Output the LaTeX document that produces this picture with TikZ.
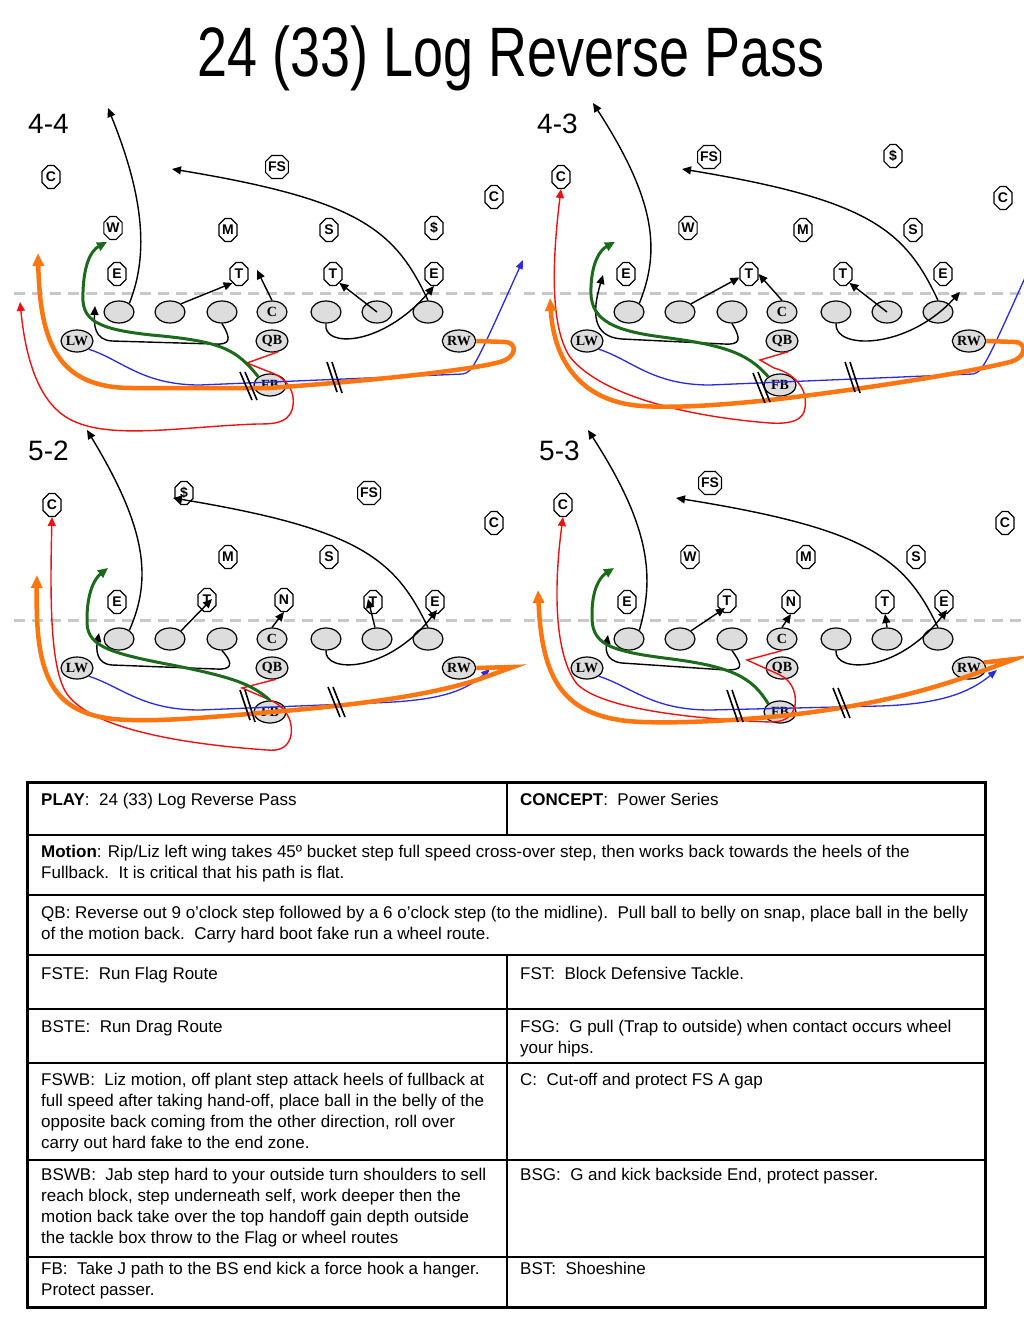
\documentclass[tikz,border=0pt]{standalone}
\usepackage{fontspec}
\setmainfont{Liberation Sans}
\newfontfamily\serifbf{Liberation Serif}
\usepackage{graphicx}
\usetikzlibrary{shapes.geometric, shapes.misc, arrows.meta, positioning}
\definecolor{ovalgray}{HTML}{DDDDDD}
\definecolor{losgray}{HTML}{C8C8C8}
\definecolor{runblue}{HTML}{2A2AE0}
\definecolor{runred}{HTML}{EE1111}
\definecolor{rungreen}{HTML}{1C6B1C}
\definecolor{runorange}{HTML}{FF7510}

% offensive set: line, backs and wings, names get a prefix
\newcommand{\offense}[1]{%
    \draw[los] (-258,-19) -- (246,-19);
    \node[ol] (#1-o1) at (-153,0) {};
    \node[ol] (#1-o2) at (-102,0) {};
    \node[ol] (#1-o3) at (-50,0) {};
    \node[ol] (#1-c) at (0,0) {C};
    \node[ol] (#1-o5) at (54,0) {};
    \node[ol] (#1-o6) at (105,0) {};
    \node[ol] (#1-o7) at (156,0) {};
    \node[back] (#1-qb) at (0,29) {QB};
    \node[back] (#1-fb) at (-2,73) {FB};
    \node[back] (#1-lw) at (-195,29) {LW};
    \node[back] (#1-rw) at (187,29) {RW};
}

\begin{document}
\begin{tikzpicture}[
    x=1pt, y=-1pt,
    ol/.style={ellipse, draw, line width=1.2pt, fill=ovalgray, minimum width=30pt, minimum height=22pt, inner sep=0pt, font=\serifbf\bfseries\fontsize{14}{14}\selectfont},
    back/.style={ol, minimum width=32pt},
    dfn/.style={chamfered rectangle, chamfered rectangle xsep=2.5pt, draw, line width=1.1pt, fill=white, minimum width=18pt, minimum height=23pt, inner sep=0pt, font=\bfseries\fontsize{14}{14}\selectfont},
    los/.style={losgray, line width=3pt, dash pattern=on 11pt off 7pt},
    arr/.style={-{Triangle[length=9pt, width=8pt]}, line width=1.4pt},
    grnarr/.style={-{Triangle[length=10pt, width=9pt]}, line width=3pt, rungreen},
    bluarr/.style={-{Triangle[length=9pt, width=7pt]}, line width=1.3pt, runblue},
    redarr/.style={-{Triangle[length=9pt, width=8pt]}, line width=1.4pt, runred},
    orgarr/.style={-{Triangle[length=13pt, width=11pt]}, line width=4.5pt, runorange},
    slash/.style={line width=1.6pt},
    lbl/.style={anchor=base west, inner sep=0pt, font=\fontsize{28}{28}\selectfont},
    cell/.style={anchor=north west, inner sep=0pt, align=left, font=\fontsize{17}{21}\selectfont},
    grid/.style={line width=1.5pt},
]
    \path[fill=white, use as bounding box] (0,0) rectangle (1023,1319);

    \node[anchor=base, inner sep=0pt, font=\fontsize{70}{70}\selectfont] (title) at (511,77) {\scalebox{0.77}[1]{24 (33) Log Reverse Pass}};

    \node[lbl] (lbl44) at (28,133) {4-4};
    \node[lbl] (lbl43) at (537,133) {4-3};
    \node[lbl] (lbl52) at (28,460) {5-2};
    \node[lbl] (lbl53) at (539,460) {5-3};

    % 4-4
    \begin{scope}[shift={(272,312)}]
        \offense{a}
        \node[dfn] (a-cl) at (-221,-135) {C};
        \node[dfn] (a-w) at (-159,-84) {W};
        \node[dfn] (a-m) at (-44,-82) {M};
        \node[dfn] (a-fs) at (5,-145) {FS};
        \node[dfn] (a-s) at (57,-82) {S};
        \node[dfn] (a-ss) at (162,-84) {\$};
        \node[dfn] (a-cr) at (222,-115) {C};
        \node[dfn] (a-el) at (-155,-38) {E};
        \node[dfn] (a-tl) at (-33,-38) {T};
        \node[dfn] (a-tr) at (61,-38) {T};
        \node[dfn] (a-er) at (162,-38) {E};

        \draw[arr] (a-o1.40) .. controls (-122,-60) and (-130,-120) .. (-164,-204);
        \draw[arr] (a-o7.north) .. controls (123,-82) and (88,-112) .. (-100,-143);
        \draw[arr] (a-o2.north east) -- (a-tl.south west);
        \draw[arr] (a-c.north) -- (-15,-42);
        \draw[arr] (a-o6.center) -- (a-tr.south east);
        \draw[arr] (a-o5.south) .. controls (50,36) and (110,35) .. (a-er.south);
        \draw[arr] (a-o3.south) .. controls (-40,28) and (-42,33) .. (-58,32) -- (-160,29) .. controls (-178,28) and (-178,12) .. (-177,-6);
        \draw[bluarr] (a-lw.south east) .. controls (-150,48) and (-130,73) .. (-72,73) -- (191,62) .. controls (201,60) and (205,50) .. (251,-52);
        \draw[redarr] (a-qb.-60) -- (-25,51) -- (-5,59) .. controls (15,65) and (25,80) .. (20,98) .. controls (15,112) and (0,112) .. (-15,112) .. controls (-100,115) and (-180,132) .. (-215,98) .. controls (-240,75) and (-248,30) .. (-252,-10);
        \draw[grnarr] (a-fb.north west) .. controls (-35,38) and (-50,30) .. (-110,24) .. controls (-178,18) and (-191,8) .. (-189,-20) .. controls (-188,-50) and (-180,-62) .. (-165,-70);
        \draw[orgarr] (a-rw.east) -- (233,30) .. controls (245,30) and (246,45) .. (228,50) .. controls (190,60) and (80,70) .. (-2,76) -- (-140,76) .. controls (-215,76) and (-232,30) .. (-234,-59);
        \draw[slash] (-32,60) -- (-20,88) (-27,60) -- (-15,88);
        \draw[slash] (55,50) -- (65,80) (60,50) -- (70,81);
    \end{scope}

    % 4-3
    \begin{scope}[shift={(782,312)}]
        \offense{b}
        \node[dfn] (b-cl) at (-221,-135) {C};
        \node[dfn] (b-fs) at (-73,-155) {FS};
        \node[dfn] (b-ss) at (111,-156) {\$};
        \node[dfn] (b-cr) at (221,-114) {C};
        \node[dfn] (b-w) at (-94,-84) {W};
        \node[dfn] (b-m) at (21,-82) {M};
        \node[dfn] (b-s) at (131,-82) {S};
        \node[dfn] (b-el) at (-156,-38) {E};
        \node[dfn] (b-tl) at (-33,-38) {T};
        \node[dfn] (b-tr) at (61,-38) {T};
        \node[dfn] (b-er) at (161,-38) {E};

        \draw[arr] (b-o1.40) .. controls (-122,-60) and (-125,-110) .. (-189,-209);
        \draw[arr] (b-o7.north) .. controls (123,-82) and (88,-112) .. (-100,-143);
        \draw[arr] (b-o2.north east) -- (b-tl.200);
        \draw[arr] (b-c.north) -- (b-tl.east);
        \draw[arr] (b-o6.center) -- (b-tr.south east);
        \draw[arr] (b-o5.south) .. controls (52,38) and (125,38) .. (178,-20);
        \draw[arr] (b-o3.south) .. controls (-40,28) and (-42,33) .. (-58,32) -- (-160,27) .. controls (-190,25) and (-190,0) .. (-179,-37);
        \draw[bluarr] (b-lw.south east) .. controls (-150,48) and (-130,73) .. (-72,73) -- (191,62) .. controls (201,60) and (205,50) .. (251,-52);
        \draw[redarr] (b-qb.-60) -- (-22,48) -- (-8,56) .. controls (15,62) and (28,80) .. (22,100) .. controls (18,110) and (5,112) .. (-12,111) .. controls (-90,105) and (-180,85) .. (-212,45) .. controls (-232,15) and (-230,-50) .. (b-cl.south);
        \draw[grnarr] (b-fb.north west) .. controls (-35,40) and (-60,33) .. (-120,25) .. controls (-175,18) and (-193,5) .. (-191,-25) .. controls (-190,-50) and (-182,-62) .. (-167,-70);
        \draw[orgarr] (b-rw.east) -- (233,30) .. controls (244,30) and (246,45) .. (228,50) .. controls (180,62) and (60,80) .. (-12,88) .. controls (-70,94) and (-110,96) .. (-140,94) .. controls (-200,90) and (-228,50) .. (-232,-14);
        \draw[slash] (-29,61) -- (-17,91) (-24,60) -- (-12,90);
        \draw[slash] (63,50) -- (73,80) (68,50) -- (78,81);
    \end{scope}

    % 5-2
    \begin{scope}[shift={(272,639)}]
        \offense{c}
        \node[dfn] (c-cl) at (-220,-134) {C};
        \node[dfn] (c-ss) at (-88,-146) {\$};
        \node[dfn] (c-fs) at (97,-146) {FS};
        \node[dfn] (c-cr) at (222,-116) {C};
        \node[dfn] (c-m) at (-44,-82) {M};
        \node[dfn] (c-s) at (57,-82) {S};
        \node[dfn] (c-el) at (-155,-37) {E};
        \node[dfn] (c-tl) at (-65,-39) {T};
        \node[dfn] (c-n) at (12,-39) {N};
        \node[dfn] (c-tr) at (101,-37) {T};
        \node[dfn] (c-er) at (163,-37) {E};

        \draw[arr] (c-o1.40) .. controls (-120,-60) and (-125,-110) .. (-185,-209);
        \draw[arr] (c-o7.north) .. controls (123,-80) and (88,-110) .. (-99,-141);
        \draw[arr] (c-o2.north east) -- (-60,-40);
        \draw[arr] (c-c.north) -- (c-n.south);
        \draw[arr] (c-o6.100) -- (96,-40);
        \draw[arr] (c-o5.south) .. controls (52,34) and (115,35) .. (165,-29);
        \draw[arr] (c-o3.south) .. controls (-38,25) and (-40,31) .. (-56,30) -- (-160,26) .. controls (-176,25) and (-176,10) .. (-173,-6);
        \draw[bluarr] (c-lw.south east) .. controls (-150,48) and (-130,71) .. (-72,71) -- (100,64) .. controls (160,62) and (190,55) .. (218,30);
        \draw[redarr] (c-qb.-70) -- (-30,49) -- (-2,61) .. controls (15,68) and (23,85) .. (18,100) .. controls (14,110) and (5,112) .. (-5,111) .. controls (-90,105) and (-180,90) .. (-205,55) .. controls (-222,30) and (-222,-40) .. (c-cl.south);
        \draw[grnarr] (c-fb.north) .. controls (-20,45) and (-40,38) .. (-100,26) .. controls (-170,13) and (-186,5) .. (-185,-20) .. controls (-185,-45) and (-178,-60) .. (-164,-71);
        \draw[orgarr] (c-rw.east) -- (241,28) -- (205,41) .. controls (160,55) and (100,65) .. (-12,74) .. controls (-70,79) and (-110,82) .. (-140,81) .. controls (-220,80) and (-237,40) .. (-235,-64);
        \draw[slash] (-32,51) -- (-22,81) (-27,51) -- (-17,83);
        \draw[slash] (56,48) -- (68,78) (61,48) -- (73,78);
    \end{scope}

    % 5-3
    \begin{scope}[shift={(782,639)}]
        \offense{d}
        \node[dfn] (d-cl) at (-219,-134) {C};
        \node[dfn] (d-fs) at (-72,-156) {FS};
        \node[dfn] (d-cr) at (223,-116) {C};
        \node[dfn] (d-w) at (-92,-82) {W};
        \node[dfn] (d-m) at (24,-82) {M};
        \node[dfn] (d-s) at (134,-82) {S};
        \node[dfn] (d-el) at (-155,-37) {E};
        \node[dfn] (d-tl) at (-55,-38) {T};
        \node[dfn] (d-n) at (9,-37) {N};
        \node[dfn] (d-tr) at (103,-37) {T};
        \node[dfn] (d-er) at (162,-37) {E};

        \draw[arr] (d-o1.40) .. controls (-128,-60) and (-130,-110) .. (-194,-209);
        \draw[arr] (d-o7.north) .. controls (123,-80) and (88,-110) .. (-106,-141);
        \draw[arr] (d-o2.north east) -- (-57,-31);
        \draw[arr] (d-c.north) -- (d-n.south);
        \draw[arr] (d-o6.north) -- (d-tr.south);
        \draw[arr] (d-o5.south) .. controls (52,34) and (115,35) .. (165,-29);
        \draw[arr] (d-o3.south) .. controls (-38,28) and (-40,31) .. (-56,31) -- (-160,24) .. controls (-178,22) and (-176,8) .. (-174,-4);
        \draw[bluarr] (d-lw.south east) .. controls (-150,48) and (-130,71) .. (-72,71) -- (98,67) .. controls (160,65) and (188,53) .. (215,31);
        \draw[redarr] (d-c.south) -- (-35,21) -- (-2,36) .. controls (12,42) and (16,60) .. (12,70) .. controls (8,80) and (0,83) .. (-12,83) .. controls (-90,80) and (-180,70) .. (-205,45) .. controls (-225,20) and (-230,-40) .. (d-cl.south);
        \draw[grnarr] (d-fb.north west) .. controls (-30,38) and (-50,28) .. (-110,20) .. controls (-175,12) and (-191,5) .. (-190,-25) .. controls (-190,-50) and (-182,-62) .. (-168,-71);
        \draw[orgarr] (d-rw.20) -- (233,20) -- (195,34) .. controls (150,50) and (90,68) .. (-12,78) .. controls (-70,83) and (-110,84) .. (-140,83) .. controls (-220,80) and (-240,40) .. (-244,-49);
        \draw[slash] (-55,51) -- (-44,83) (-50,51) -- (-39,83);
        \draw[slash] (51,49) -- (63,79) (56,49) -- (68,79);
    \end{scope}

    % Play card
    \draw[line width=3pt] (27,782) rectangle (985,1307);
    \draw[grid] (27,835) -- (985,835) (27,895) -- (985,895) (27,955) -- (985,955) (27,1009) -- (985,1009)
        (27,1063) -- (985,1063) (27,1160) -- (985,1160) (27,1257) -- (985,1257);
    \draw[grid] (507,782) -- (507,835) (507,955) -- (507,1307);

    \node[cell] (play) at (41,793) {\textbf{PLAY}:\ \ 24 (33) Log Reverse Pass};
    \node[cell] (concept) at (520,793) {\textbf{CONCEPT}:\ \ Power Series};
    \node[cell] (motion) at (41,845) {\textbf{Motion}: Rip/Liz left wing takes 45º bucket step full speed cross-over step, then works back towards the heels of the\\Fullback.\ \ It is critical that his path is flat.};
    \node[cell] (qbnote) at (41,906) {QB: Reverse out 9 o’clock step followed by a 6 o’clock step (to the midline).\ \ Pull ball to belly on snap, place ball in the belly\\of the motion back.\ \ Carry hard boot fake run a wheel route.};
    \node[cell] (fste) at (41,967) {FSTE:\ \ Run Flag Route};
    \node[cell] (fst) at (520,967) {FST:\ \ Block Defensive Tackle.};
    \node[cell] (bste) at (41,1020) {BSTE:\ \ Run Drag Route};
    \node[cell] (fsg) at (520,1020) {FSG:\ \ G pull (Trap to outside) when contact occurs wheel\\your hips.};
    \node[cell] (fswb) at (41,1073) {FSWB:\ \ Liz motion, off plant step attack heels of fullback at\\full speed after taking hand-off, place ball in the belly of the\\opposite back coming from the other direction, roll over\\carry out hard fake to the end zone.};
    \node[cell] (ccut) at (520,1073) {C:\ \ Cut-off and protect FS A gap};
    \node[cell] (bswb) at (41,1168) {BSWB:\ \ Jab step hard to your outside turn shoulders to sell\\reach block, step underneath self, work deeper then the\\motion back take over the top handoff gain depth outside\\the tackle box throw to the Flag or wheel routes};
    \node[cell] (bsg) at (520,1168) {BSG:\ \ G and kick backside End, protect passer.};
    \node[cell] (fbnote) at (41,1262) {FB:\ \ Take J path to the BS end kick a force hook a hanger.\\Protect passer.};
    \node[cell] (bst) at (520,1262) {BST:\ \ Shoeshine};
\end{tikzpicture}
\end{document}
